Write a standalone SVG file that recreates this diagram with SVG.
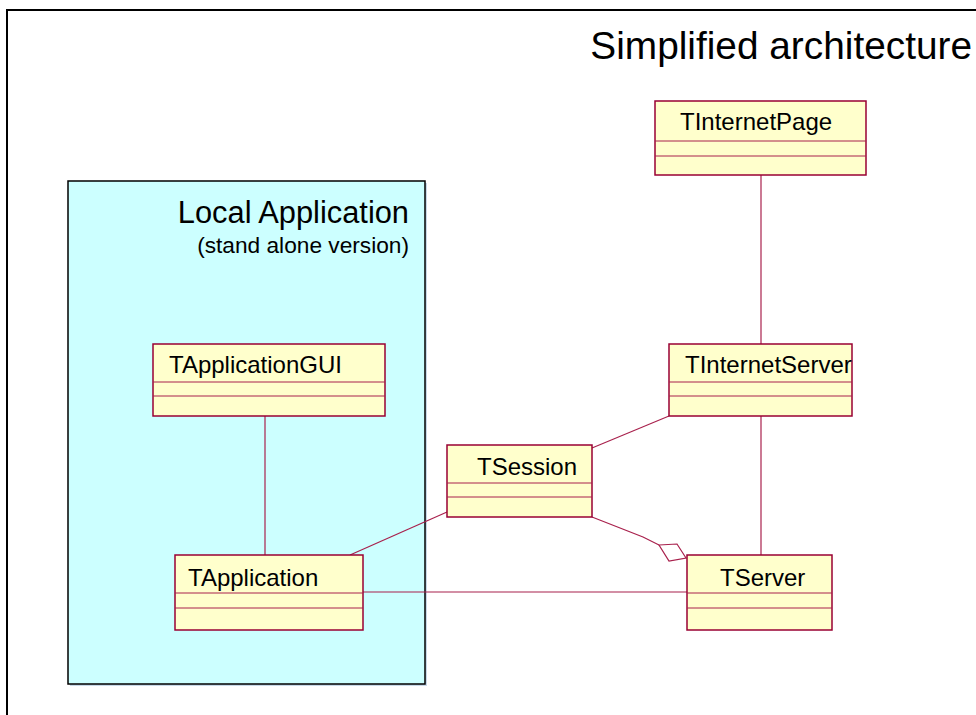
<svg xmlns="http://www.w3.org/2000/svg" width="976" height="715" viewBox="0 0 976 715">
<style>
  text { font-family: "Liberation Sans", Arial, sans-serif; fill: #000; }
  .cls { fill: #ffffcc; stroke: #990033; stroke-width: 1.5; }
  .sep { stroke: #a8204c; stroke-width: 1; fill: none; }
  .name { font-size: 24px; }
  .conn { stroke: #a8204c; stroke-width: 1.2; fill: none; }
</style>
<rect x="0" y="0" width="976" height="715" fill="#ffffff"/>
<path d="M7,715 V10 H976" fill="none" stroke="#000" stroke-width="2"/>
<text x="972" y="59" font-size="38.8" text-anchor="end">Simplified architecture</text>

<g id="local-application">
  <rect x="70" y="183" width="357" height="503" fill="#c8d8e8"/>
  <rect x="68" y="181" width="357" height="503" fill="#ccffff" stroke="#000" stroke-width="1.5"/>
  <text x="409" y="223" font-size="30.8" text-anchor="end">Local Application</text>
  <text x="409" y="253" font-size="22.7" text-anchor="end">(stand alone version)</text>
</g>

<g id="connectors">
  <line class="conn" x1="761" y1="175" x2="761" y2="344"/>
  <line class="conn" x1="761" y1="416" x2="761" y2="555"/>
  <line class="conn" x1="265" y1="416" x2="265" y2="555"/>
  <line class="conn" x1="669" y1="416" x2="592" y2="448"/>
  <line class="conn" x1="447" y1="512" x2="350" y2="555"/>
  <line class="conn" x1="363" y1="592" x2="687" y2="592"/>
  <polyline class="conn" points="592,517 643,537 659,545"/>
  <polygon class="conn" points="659,545 677,544 686,558 669,561" fill="#ffffff"/>
</g>

<g id="TInternetPage">
  <rect class="cls" x="655" y="101" width="211" height="74"/>
  <line class="sep" x1="655" y1="141" x2="866" y2="141"/>
  <line class="sep" x1="655" y1="156" x2="866" y2="156"/>
  <text class="name" x="680" y="130">TInternetPage</text>
</g>

<g id="TApplicationGUI">
  <rect class="cls" x="153" y="344" width="232" height="72"/>
  <line class="sep" x1="153" y1="382" x2="385" y2="382"/>
  <line class="sep" x1="153" y1="396" x2="385" y2="396"/>
  <text class="name" x="169" y="373">TApplicationGUI</text>
</g>

<g id="TInternetServer">
  <rect class="cls" x="669" y="344" width="183" height="72"/>
  <line class="sep" x1="669" y1="382" x2="852" y2="382"/>
  <line class="sep" x1="669" y1="396" x2="852" y2="396"/>
  <text class="name" x="685" y="373">TInternetServer</text>
</g>

<g id="TSession">
  <rect class="cls" x="447" y="445" width="145" height="72"/>
  <line class="sep" x1="447" y1="483" x2="592" y2="483"/>
  <line class="sep" x1="447" y1="497" x2="592" y2="497"/>
  <text class="name" x="477" y="475">TSession</text>
</g>

<g id="TApplication">
  <rect class="cls" x="175" y="555" width="188" height="75"/>
  <line class="sep" x1="175" y1="593" x2="363" y2="593"/>
  <line class="sep" x1="175" y1="608" x2="363" y2="608"/>
  <text class="name" x="188" y="586">TApplication</text>
</g>

<g id="TServer">
  <rect class="cls" x="687" y="555" width="145" height="75"/>
  <line class="sep" x1="687" y1="593" x2="832" y2="593"/>
  <line class="sep" x1="687" y1="608" x2="832" y2="608"/>
  <text class="name" x="720" y="586">TServer</text>
</g>
</svg>
